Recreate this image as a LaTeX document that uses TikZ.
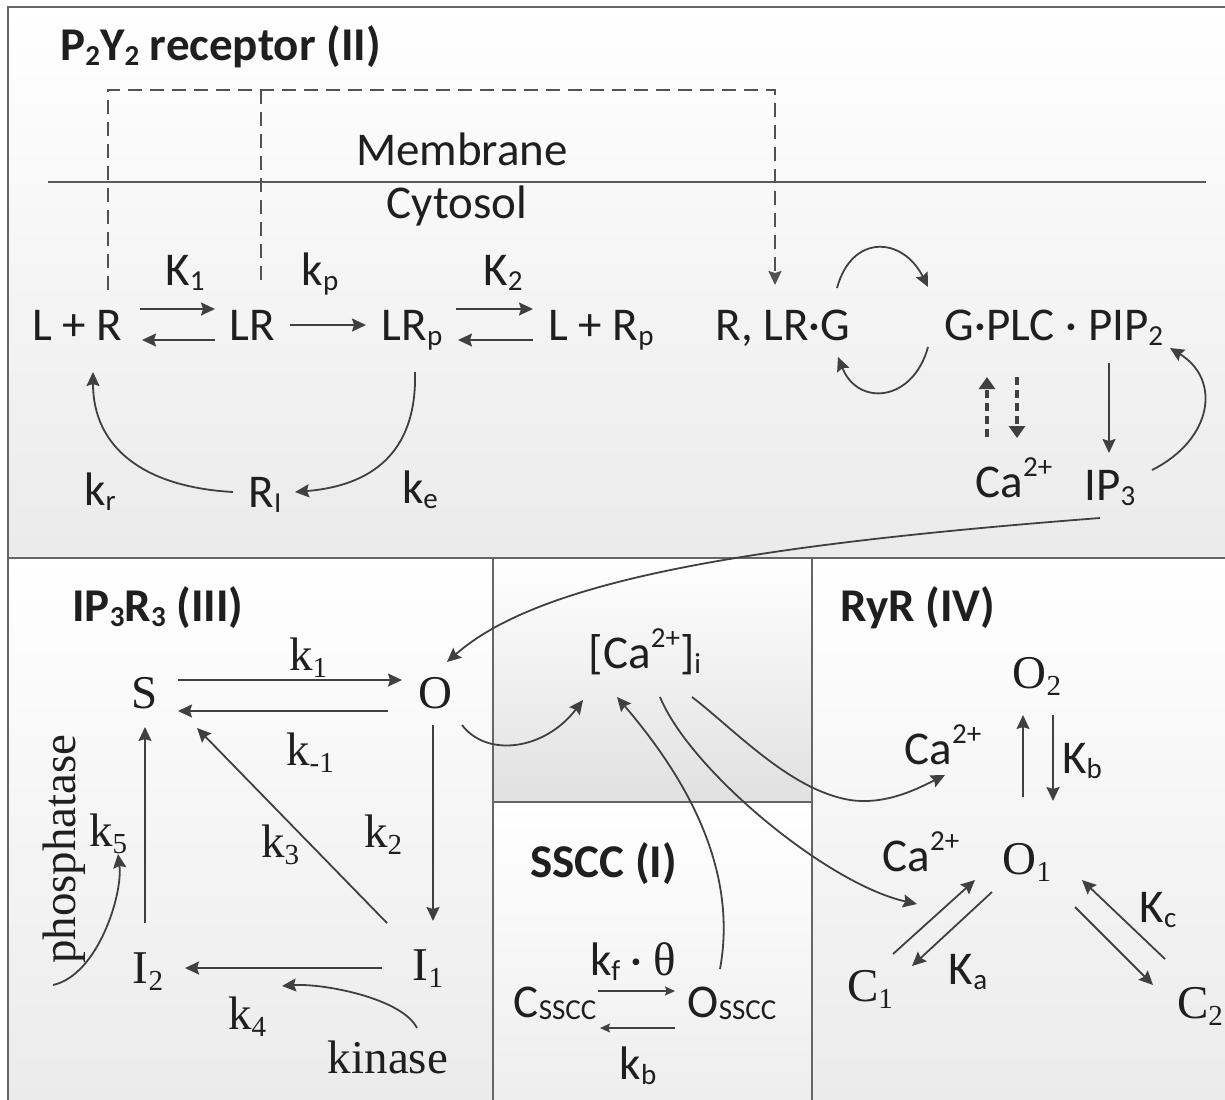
\documentclass[tikz,border=0pt]{standalone}
\usepackage{fontspec}
\setmainfont{Carlito}
\newfontfamily\serif{Liberation Serif}
\usetikzlibrary{arrows.meta,calc}
\newcommand{\lsub}[1]{\raisebox{-2.8pt}{\fontsize{14.5}{15}\selectfont #1}}
\newcommand{\ssub}[1]{\raisebox{-3.5pt}{\fontsize{14.5}{15}\selectfont #1}}
\newcommand{\lsubb}[1]{\raisebox{-1pt}{\fontsize{14.5}{15}\selectfont #1}}
\newcommand{\lsup}[1]{\raisebox{10.5pt}{\fontsize{14.5}{15}\selectfont #1}}
\begin{document}
\begin{tikzpicture}[x=0.5pt,y=-0.5pt,
  every node/.style={font=\fontsize{23.5}{28}\selectfont, text=black!88, inner sep=0pt, text height=21pt, text depth=6pt},
  ser/.style={font=\fontsize{23.5}{28}\selectfont\serif},
  ttl/.style={font=\fontsize{23.5}{28}\selectfont\bfseries, anchor=west},
  panel/.style={draw=black!60, line width=1pt},
  ln/.style={draw=black!75, line width=0.9pt},
  arr/.style={ln, -{Stealth[length=7pt,width=6.5pt,inset=1pt]}},
  sarr/.style={draw=black!75, line width=0.7pt, -{Stealth[length=5pt,width=4.5pt,inset=0.8pt]}},
  dsh/.style={draw=black!68, line width=1.1pt, dash pattern=on 7pt off 4pt},
  tdsh/.style={draw=black!75, line width=1.8pt, dash pattern=on 4pt off 2.5pt, -{Triangle[length=6pt,width=8pt]}},
]
\path[clip] (0,0) rectangle (1225,1099);
% panels
\shade[top color=white, bottom color=black!8] (8,7) rectangle (1240,558);
\shade[top color=white, bottom color=black!8] (8,558) rectangle (493,1110);
\shade[top color=white, bottom color=black!12] (493,558) rectangle (812,802);
\shade[top color=white, bottom color=black!7] (493,802) rectangle (812,1110);
\shade[top color=white, bottom color=black!8] (812,558) rectangle (1240,1110);
\draw[panel] (1240,7) -- (8,7) -- (8,1110);
\draw[panel] (8,558) -- (1240,558);
\draw[panel] (493,558) -- (493,1110);
\draw[panel] (812,558) -- (812,1110);
\draw[panel] (493,802) -- (812,802);
\draw[draw=black!65, line width=0.9pt] (48,182) -- (1206,182);

% top panel nodes
\node[ttl] (t2) at (60,45) {P\lsub{2}Y\lsub{2} receptor (II)};
\node (mem) at (462,150) {Membrane};
\node (cyt) at (457,203) {Cytosol};
\node (LpR) at (77,325) {L + R};
\node (LR) at (252,325) {LR};
\node (LRp) at (412,325) {LR\lsub{p}};
\node (LpRp) at (601,325) {L + R\lsub{p}};
\node (RLRG) at (783,325) {R, LR·G};
\node (GPLC) at (1054,325) {G·PLC · PIP\lsub{2}};
\node (Ca) at (1014,482) {Ca\lsup{2+}};
\node (IP3) at (1110,485) {IP\lsub{3}};
\node (RI) at (265,492) {R\lsub{I}};
\node (K1) at (185,270) {K\lsub{1}};
\node (kp) at (320,270) {k\lsub{p}};
\node (K2) at (503,270) {K\lsub{2}};
\node (kr) at (100,490) {k\lsub{r}};
\node (ke) at (420,488) {k\lsub{e}};

% IP3R3 panel nodes
\node[ttl] (t3) at (72,606) {IP\lsub{3}R\lsub{3} (III)};
\node[ser] (S) at (145,693) {S};
\node[ser] (O) at (435,693) {O};
\node[ser] (I2) at (148,968) {I\ssub{2}};
\node[ser] (I1) at (428,965) {I\ssub{1}};
\node[ser] (k1) at (308,655) {k\ssub{1}};
\node[ser] (km1) at (310,750) {k\ssub{-1}};
\node[ser] (k2) at (383,832) {k\ssub{2}};
\node[ser] (k3) at (280,842) {k\ssub{3}};
\node[ser] (k4) at (247,1014) {k\ssub{4}};
\node[ser] (k5) at (108,831) {k\ssub{5}};
\node[ser] (kin) at (388,1058) {kinase};
\node[ser, rotate=90] (pho) at (60,849) {phosphatase};

% middle panels
\node (Cai) at (645,653) {[Ca\lsup{2+}]\lsub{i}};
\node[ttl] (t1) at (530,862) {SSCC (I)};
\node (Cs) at (555,1002) {C\lsubb{SSCC}};
\node (Os) at (732,1002) {O\lsubb{SSCC}};
\node (kft) at (633,960) {k\lsub{f} · {\serif θ}};
\node (kb) at (638,1064) {k\lsub{b}};

% RyR panel
\node[ttl] (t4) at (840,606) {RyR (IV)};
\node[ser] (O2) at (1037,673) {O\ssub{2}};
\node[ser] (O1) at (1027,859) {O\ssub{1}};
\node[ser] (C1) at (870,986) {C\ssub{1}};
\node[ser] (C2) at (1200,1003) {C\ssub{2}};
\node (CaU) at (943,749) {Ca\lsup{2+}};
\node (CaL) at (921,856) {Ca\lsup{2+}};
\node (Kb) at (1082,758) {K\lsub{b}};
\node (Ka) at (968,969) {K\lsub{a}};
\node (Kc) at (1158,907) {K\lsub{c}};

% top connectors
\draw[arr] ($(LpR)+(63,-16)$) -- ($(LR)+(-37,-16)$);
\draw[arr] ($(LR)+(-37,15)$) -- ($(LpR)+(65,15)$);
\draw[arr] ($(LR)+(38,0)$) -- ($(LRp)+(-46,0)$);
\draw[arr] ($(LRp)+(44,-16)$) -- ($(LpRp)+(-68,-16)$);
\draw[arr] ($(LpRp)+(-68,15)$) -- ($(LRp)+(46,15)$);
\draw[arr] ($(LRp)+(3,47)$) .. controls +(2,73) and +(85,-7) .. ($(RI)+(30,0)$);
\draw[arr] ($(RI)+(-32,0)$) .. controls +(-90,-5) and +(0,75) .. ($(LpR)+(16,47)$);
\draw[dsh] ($(LR)+(9,-45)$) -- ($(LR)+(9,-235)$);
\draw[dsh, -{Stealth[length=7pt,width=6.5pt,inset=1pt]}] ($(LpR)+(31,-35)$) |- ($(RLRG)+(-8,-235)$) -- ($(RLRG)+(-8,-40)$);
\draw[arr] ($(RLRG)+(54,-37)$) .. controls +(15,-55) and +(-25,-50) .. ($(GPLC)+(-126,-38)$);
\draw[arr] ($(GPLC)+(-126,22)$) .. controls +(-15,55) and +(20,50) .. ($(RLRG)+(55,32)$);
\draw[tdsh] ($(Ca)+(-27,-45)$) -- ($(GPLC)+(-67,52)$);
\draw[tdsh] ($(GPLC)+(-37,52)$) -- ($(Ca)+(3,-44)$);
\draw[arr] ($(GPLC)+(55,38)$) -- ($(IP3)+(-1,-32)$);
\draw[arr] ($(IP3)+(42,-15)$) .. controls +(60,-30) and +(52,32) .. ($(GPLC)+(116,23)$);
\draw[arr] ($(IP3)+(-10,33)$) .. controls +(-350,27) and +(93,-82) .. ($(O)+(12,-31)$);

% IP3R3 connectors
\draw[arr] ($(S)+(33,-13)$) -- ($(O)+(-33,-13)$);
\draw[arr] ($(O)+(-47,18)$) -- ($(S)+(33,18)$);
\draw[arr] ($(O)+(-2,32)$) -- ($(I1)+(5,-44)$);
\draw[arr] ($(I1)+(-41,-42)$) -- ($(S)+(52,35)$);
\draw[arr] ($(I2)+(-3,-45)$) -- ($(S)+(0,34)$);
\draw[arr] ($(I1)+(-46,3)$) -- ($(I2)+(37,0)$);
\draw[arr] ($(kin)+(29,-30)$) .. controls +(-15,-30) and +(40,-3) .. ($(k4)+(35,-28)$);
\draw[arr] ($(pho)+(-7,136)$) .. controls +(45,-10) and +(5,40) .. ($(k5)+(10,23)$);

% middle connectors
\draw[arr] ($(O)+(27,32)$) .. controls +(25,33) and +(-38,50) .. ($(Cai)+(-62,47)$);
\draw[arr] ($(Os)+(-12,-33)$) .. controls +(20,-109) and +(58,68) .. ($(Cai)+(-28,44)$);
\draw[arr] ($(Cai)+(15,44)$) .. controls +(30,73) and +(-90,-20) .. ($(CaL)+(-4,48)$);
\draw[arr] ($(Cai)+(47,44)$) .. controls +(43,33) and +(-60,-10) .. (850,800) .. controls +(35,5) and +(-30,15) .. ($(CaU)+(2,26)$);
\draw[sarr] ($(Cs)+(43,-11)$) -- ($(Os)+(-57,-11)$);
\draw[sarr] ($(Os)+(-57,26)$) -- ($(Cs)+(45,26)$);

% RyR connectors
\draw[arr] ($(O1)+(-4,-62)$) -- ($(O2)+(-14,42)$);
\draw[arr] ($(O2)+(16,42)$) -- ($(O1)+(26,-58)$);
\draw[arr] ($(C1)+(23,-32)$) -- ($(O1)+(-52,21)$);
\draw[arr] ($(O1)+(-35,33)$) -- ($(C1)+(42,-20)$);
\draw[arr] ($(C2)+(-35,-44)$) -- ($(O1)+(55,21)$);
\draw[arr] ($(O1)+(48,48)$) -- ($(C2)+(-47,-18)$);
\end{tikzpicture}
\end{document}
